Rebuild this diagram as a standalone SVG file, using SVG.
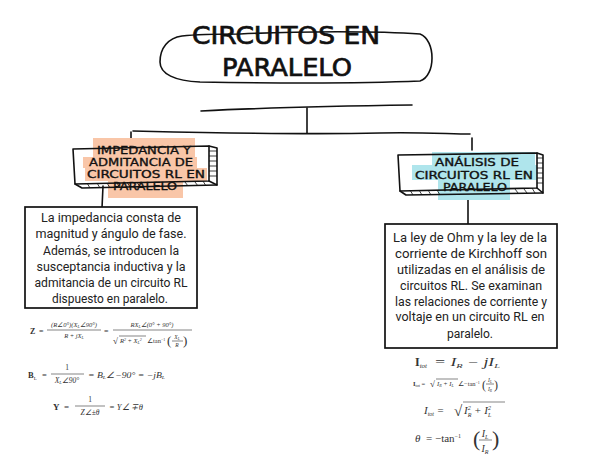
<svg xmlns="http://www.w3.org/2000/svg" width="590" height="460" viewBox="0 0 590 460">
<defs>
<style>
.ln{fill:none;stroke:#111;stroke-width:1.6;stroke-linecap:round;stroke-linejoin:round}
.hat{fill:none;stroke:#111;stroke-width:0.8}
.ttl{font-family:"DejaVu Sans","Liberation Sans",sans-serif;font-size:24px;fill:#111;stroke:#111;stroke-width:0.7;text-anchor:middle}
.nd{font-family:"DejaVu Sans","Liberation Sans",sans-serif;font-size:11px;fill:#111;stroke:#111;stroke-width:0.35;text-anchor:middle}
.bx{font-family:Roboto,"Liberation Sans",sans-serif;font-size:12.5px;fill:#222;text-anchor:middle}
.f{font-family:"Liberation Serif","Times New Roman",serif;fill:#333}
.fl{stroke:#333;stroke-width:0.6}
</style>
</defs>
<rect width="590" height="460" fill="#fff"/>

<g id="connectors">
<path class="ln" d="M201,111 C260,108 340,106 412,105"/>
<path class="ln" d="M307,108 L307,133"/>
<path class="ln" d="M133,131 C220,133 300,135 380,133 C420,132 450,134 470,134"/>
<path class="ln" d="M131,132 L131,143"/>
<path class="ln" d="M472,138 L472,150"/>
<path class="ln" d="M103,186 L102,208"/>
<path class="ln" d="M468,196 L468,225"/>
</g>

<g id="title">
<path class="ln" d="M240,34 C300,31 380,31 420,34 C436,40 436,76 420,81 C350,84 260,83 200,82 C175,81 160,74 160,62 C160,48 168,38 182,36 C200,34 220,34 240,34"/>
<text class="ttl" x="286" y="44" textLength="188" lengthAdjust="spacingAndGlyphs">CIRCUITOS EN</text>
<text class="ttl" x="287" y="76" textLength="130" lengthAdjust="spacingAndGlyphs">PARALELO</text>
</g>

<g id="node-impedancia">
<path fill="#f9c6a8" d="M93,138 H195 V157 H197 V168 H207 V181 H183 V198 H108 V181 H85 V168 H83 V157 H93 Z"/>
<path class="ln" d="M73,149 L209,146 L209,181 L75,184 Z"/>
<path class="ln" d="M209,146 L217,148 L217,185 L209,181"/>
<path class="ln" d="M75,184 L82,188 L217,185"/>
<path class="hat" d="M209,151 H217 M209,156 H217 M209,161 H217 M209,166 H217 M209,171 H217 M209,176 H217 M87,183 L90,188 M97,183 L100,188 M107,183 L110,188 M117,183 L120,188 M127,182 L130,187 M137,182 L140,187 M185,182 L188,186 M195,182 L198,186 M203,181 L206,186"/>
<text class="nd" x="144" y="154" textLength="94" lengthAdjust="spacingAndGlyphs">IMPEDANCIA Y</text>
<text class="nd" x="141" y="166" textLength="104" lengthAdjust="spacingAndGlyphs">ADMITANCIA DE</text>
<text class="nd" x="146" y="178" textLength="118" lengthAdjust="spacingAndGlyphs">CIRCUITOS RL EN</text>
<text class="nd" x="145" y="190" textLength="64" lengthAdjust="spacingAndGlyphs">PARALELO</text>
</g>

<g id="node-analisis">
<path fill="#afe5ec" d="M432,152 H535 V165 H537 V180 H510 V200 H438 V180 H412 V165 H432 Z"/>
<path class="ln" d="M398,155 L537,153 L537,188 L400,191 Z"/>
<path class="ln" d="M537,153 L543,155 L543,193 L537,188"/>
<path class="ln" d="M400,191 L406,195 L543,193"/>
<path class="hat" d="M537,158 H543 M537,163 H543 M537,168 H543 M537,173 H543 M537,178 H543 M537,183 H543 M410,190 L413,195 M419,190 L422,195 M428,190 L431,195 M437,190 L440,195 M515,189 L518,193 M524,189 L527,193 M532,188 L535,193"/>
<text class="nd" x="477" y="166" textLength="84" lengthAdjust="spacingAndGlyphs">ANÁLISIS DE</text>
<text class="nd" x="474" y="179" textLength="118" lengthAdjust="spacingAndGlyphs">CIRCUITOS RL EN</text>
<text class="nd" x="475" y="191" textLength="64" lengthAdjust="spacingAndGlyphs">PARALELO</text>
</g>

<g id="box-left">
<rect x="25" y="207" width="172" height="101" fill="#fff" stroke="#111" stroke-width="1.7"/>
<text class="bx" x="111" y="222" textLength="140" lengthAdjust="spacingAndGlyphs">La impedancia consta de</text>
<text class="bx" x="111" y="238" textLength="151" lengthAdjust="spacingAndGlyphs">magnitud y ángulo de fase.</text>
<text class="bx" x="111" y="255" textLength="136" lengthAdjust="spacingAndGlyphs">Además, se introducen la</text>
<text class="bx" x="111" y="271" textLength="149" lengthAdjust="spacingAndGlyphs">susceptancia inductiva y la</text>
<text class="bx" x="111" y="287" textLength="153" lengthAdjust="spacingAndGlyphs">admitancia de un circuito RL</text>
<text class="bx" x="110" y="303" textLength="116" lengthAdjust="spacingAndGlyphs">dispuesto en paralelo.</text>
</g>

<g id="box-right">
<rect x="385" y="224" width="172" height="124" fill="#fff" stroke="#111" stroke-width="1.7"/>
<text class="bx" x="470" y="242" textLength="154" lengthAdjust="spacingAndGlyphs">La ley de Ohm y la ley de la</text>
<text class="bx" x="471" y="258" textLength="152" lengthAdjust="spacingAndGlyphs">corriente de Kirchhoff son</text>
<text class="bx" x="471" y="274" textLength="148" lengthAdjust="spacingAndGlyphs">utilizadas en el análisis de</text>
<text class="bx" x="471" y="290" textLength="142" lengthAdjust="spacingAndGlyphs">circuitos RL. Se examinan</text>
<text class="bx" x="471" y="306" textLength="152" lengthAdjust="spacingAndGlyphs">las relaciones de corriente y</text>
<text class="bx" x="470" y="321" textLength="149" lengthAdjust="spacingAndGlyphs">voltaje en un circuito RL en</text>
<text class="bx" x="470" y="338" textLength="46" lengthAdjust="spacingAndGlyphs">paralelo.</text>
</g>

<g id="formulas-left">
<text class="f" x="30" y="334" font-size="8" font-weight="bold">Z</text>
<text class="f" x="39" y="334" font-size="8">=</text>
<text class="f" x="74" y="327" font-size="6.5" font-style="italic" text-anchor="middle">(R∠0°)(X<tspan font-size="4" dy="1">L</tspan><tspan dy="-1">∠90°)</tspan></text>
<line class="fl" x1="47" y1="330" x2="101" y2="330"/>
<text class="f" x="74" y="338" font-size="6.5" font-style="italic" text-anchor="middle">R + jX<tspan font-size="4" dy="1">L</tspan></text>
<text class="f" x="104" y="334" font-size="8">=</text>
<text class="f" x="152" y="327" font-size="6.5" font-style="italic" text-anchor="middle">RX<tspan font-size="4" dy="1">L</tspan><tspan dy="-1">∠(0° + 90°)</tspan></text>
<line class="fl" x1="113" y1="330" x2="192" y2="330"/>
<text class="f" x="113" y="344" font-size="9">√</text>
<line class="fl" x1="119" y1="336" x2="146" y2="336"/>
<text class="f" x="120" y="343" font-size="6.5" font-style="italic">R<tspan font-size="4" dy="-2">2</tspan><tspan dy="2"> + X</tspan><tspan font-size="4" dy="1">L</tspan><tspan font-size="4" dy="-3">2</tspan></text>
<text class="f" x="147" y="343" font-size="6.5">∠tan<tspan font-size="4" dy="-2">−1</tspan></text>
<text class="f" x="167" y="345" font-size="13">(</text>
<text class="f" x="177" y="339" font-size="5.5" font-style="italic" text-anchor="middle">X<tspan font-size="3.5" dy="1">L</tspan></text>
<line class="fl" x1="172" y1="341" x2="183" y2="341"/>
<text class="f" x="177" y="347" font-size="5.5" font-style="italic" text-anchor="middle">R</text>
<text class="f" x="183" y="345" font-size="13">)</text>

<text class="f" x="28" y="378" font-size="8.5" font-weight="bold">B<tspan font-size="5" dy="1.5" font-weight="normal">L</tspan></text>
<text class="f" x="42" y="378" font-size="8.5">=</text>
<text class="f" x="67" y="370" font-size="7.5" text-anchor="middle">1</text>
<line class="fl" x1="51" y1="374" x2="84" y2="374"/>
<text class="f" x="67" y="383" font-size="7.5" font-style="italic" text-anchor="middle">X<tspan font-size="4.5" dy="1">L</tspan><tspan dy="-1">∠90°</tspan></text>
<text class="f" x="88" y="378" font-size="8.5" font-style="italic" textLength="77" lengthAdjust="spacingAndGlyphs">= B<tspan font-size="5" dy="1">L</tspan><tspan dy="-1">∠−90° = −jB</tspan><tspan font-size="5" dy="1">L</tspan></text>

<text class="f" x="53" y="410" font-size="9" font-weight="bold">Y</text>
<text class="f" x="64" y="410" font-size="9">=</text>
<text class="f" x="90" y="402" font-size="7.5" text-anchor="middle">1</text>
<line class="fl" x1="75" y1="406" x2="105" y2="406"/>
<text class="f" x="90" y="415" font-size="7.5" font-style="italic" text-anchor="middle">Z∠±θ</text>
<text class="f" x="109" y="410" font-size="9" font-style="italic" textLength="34" lengthAdjust="spacingAndGlyphs">= Y∠ ∓θ</text>
</g>

<g id="formulas-right">
<text class="f" x="415" y="366" font-size="12" font-weight="bold">I<tspan font-size="7" font-weight="normal" font-style="italic" dy="2">tot</tspan></text>
<text class="f" x="434" y="366" font-size="12" font-style="italic" textLength="66" lengthAdjust="spacingAndGlyphs">= I<tspan font-size="7" dy="2">R</tspan><tspan dy="-2"> − jI</tspan><tspan font-size="7" dy="2">L</tspan></text>

<text class="f" x="413" y="386" font-size="6.5" font-weight="bold">I<tspan font-size="4" font-weight="normal" dy="1">tot</tspan><tspan font-weight="normal" dy="-1"> = </tspan></text>
<text class="f" x="430" y="387" font-size="9">√</text>
<line class="fl" x1="436" y1="379" x2="458" y2="379"/>
<text class="f" x="437" y="386" font-size="6.5" font-style="italic">I<tspan font-size="4" dy="1">R</tspan><tspan dy="-1"> + I</tspan><tspan font-size="4" dy="1">L</tspan></text>
<text class="f" x="458" y="386" font-size="6.5">∠−tan<tspan font-size="4" dy="-2">−1</tspan></text>
<text class="f" x="482" y="389" font-size="12">(</text>
<text class="f" x="490" y="382" font-size="5.5" font-style="italic" text-anchor="middle">I<tspan font-size="3.5" dy="1">L</tspan></text>
<line class="fl" x1="486" y1="384" x2="494" y2="384"/>
<text class="f" x="490" y="391" font-size="5.5" font-style="italic" text-anchor="middle">I<tspan font-size="3.5" dy="1">R</tspan></text>
<text class="f" x="494" y="389" font-size="12">)</text>

<text class="f" x="424" y="414" font-size="11" font-style="italic">I<tspan font-size="6" dy="2">tot</tspan><tspan dy="-2"> = </tspan></text>
<text class="f" x="454" y="416" font-size="15">√</text>
<line class="fl" x1="463" y1="402" x2="505" y2="402"/>
<text class="f" x="464" y="414" font-size="11" font-style="italic">I<tspan font-size="6" dy="-4">2</tspan><tspan font-size="6" dx="-3" dy="7">R</tspan><tspan dy="-3"> + I</tspan><tspan font-size="6" dy="-4">2</tspan><tspan font-size="6" dx="-3" dy="7">L</tspan></text>

<text class="f" x="415" y="442" font-size="11" font-style="italic">θ</text>
<text class="f" x="426" y="442" font-size="11">= −tan<tspan font-size="6" dy="-4">−1</tspan></text>
<text class="f" x="473" y="446" font-size="22">(</text>
<text class="f" x="485" y="437" font-size="10" font-style="italic" text-anchor="middle">I<tspan font-size="6" dy="2">L</tspan></text>
<line class="fl" x1="479" y1="440" x2="492" y2="440" stroke-width="0.8"/>
<text class="f" x="485" y="452" font-size="10" font-style="italic" text-anchor="middle">I<tspan font-size="6" dy="2">R</tspan></text>
<text class="f" x="492" y="446" font-size="22">)</text>
</g>
</svg>
